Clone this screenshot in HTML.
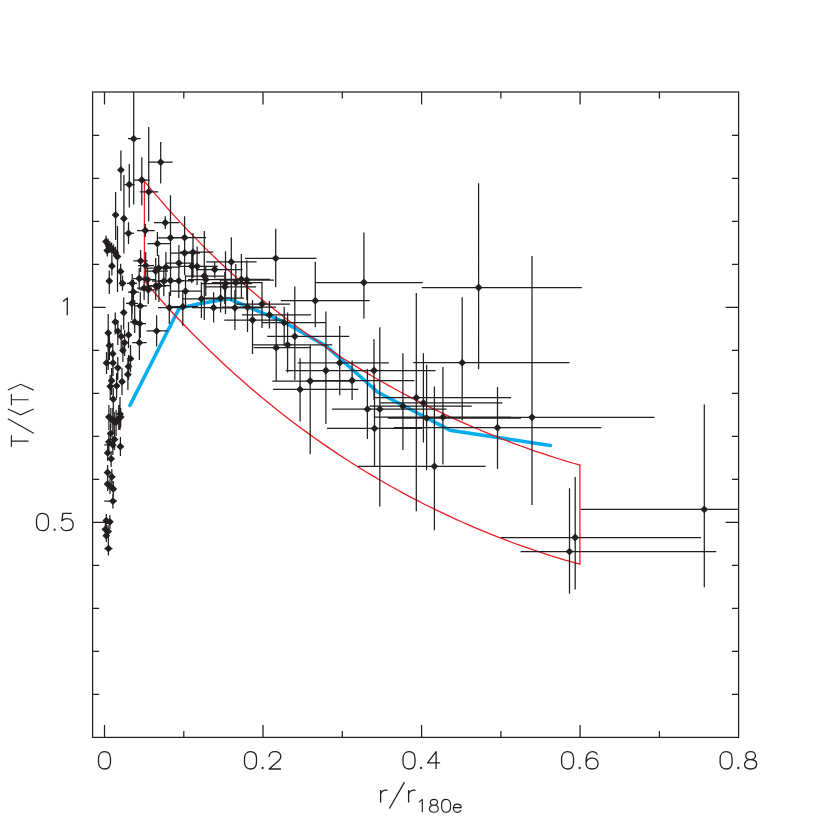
<!DOCTYPE html><html><head><meta charset="utf-8"><title>T profile</title><style>html,body{margin:0;padding:0;background:#fff;}body{width:830px;height:830px;overflow:hidden;position:relative;font-family:"Liberation Sans",sans-serif;}</style></head><body><svg width="830" height="830" viewBox="0 0 830 830" style="position:absolute;left:0;top:0"><rect x="0" y="0" width="830" height="830" fill="#fff"/><path d="M130.0,405.3 L179.2,308.3 L201.8,303.3 L228.5,298.7 L283.5,321.7 L326.3,346.1 L377.5,392.0 L449.8,430.2 L550.4,445.5" fill="none" stroke="#00aeef" stroke-width="3.6" stroke-linejoin="round" stroke-linecap="round"/><path d="M144.4,181.2 L151.8,190.1 L159.2,198.7 L166.5,207.2 L173.9,215.4 L181.3,223.4 L188.7,231.3 L196.1,238.9 L203.5,246.4 L210.8,253.6 L218.2,260.7 L225.6,267.7 L233.0,274.4 L240.4,281.0 L247.7,287.4 L255.1,293.7 L262.5,299.9 L269.9,305.9 L277.3,311.7 L284.6,317.4 L292.0,323.0 L299.4,328.5 L306.8,333.8 L314.2,339.0 L321.6,344.1 L328.9,349.1 L336.3,353.9 L343.7,358.7 L351.1,363.4 L358.5,367.9 L365.8,372.4 L373.2,376.7 L380.6,381.0 L388.0,385.1 L395.4,389.2 L402.7,393.2 L410.1,397.1 L417.5,400.9 L424.9,404.7 L432.3,408.3 L439.7,411.9 L447.0,415.4 L454.4,418.8 L461.8,422.1 L469.2,425.4 L476.6,428.5 L483.9,431.6 L491.3,434.7 L498.7,437.6 L506.1,440.5 L513.5,443.3 L520.8,446.0 L528.2,448.7 L535.6,451.3 L543.0,453.7 L550.4,456.2 L557.8,458.5 L565.1,460.8 L572.5,463.0 L579.9,465.1 L579.9,564.2 L572.5,562.2 L565.1,560.1 L557.8,557.8 L550.4,555.6 L543.0,553.2 L535.6,550.7 L528.2,548.2 L520.8,545.6 L513.5,543.0 L506.1,540.2 L498.7,537.4 L491.3,534.4 L483.9,531.4 L476.6,528.4 L469.2,525.2 L461.8,522.0 L454.4,518.6 L447.0,515.2 L439.7,511.7 L432.3,508.1 L424.9,504.5 L417.5,500.7 L410.1,496.8 L402.7,492.9 L395.4,488.8 L388.0,484.7 L380.6,480.5 L373.2,476.1 L365.8,471.7 L358.5,467.2 L351.1,462.5 L343.7,457.8 L336.3,452.9 L328.9,447.9 L321.6,442.9 L314.2,437.7 L306.8,432.4 L299.4,426.9 L292.0,421.4 L284.6,415.7 L277.3,409.9 L269.9,404.0 L262.5,398.0 L255.1,391.8 L247.7,385.5 L240.4,379.0 L233.0,372.4 L225.6,365.7 L218.2,358.8 L210.8,351.7 L203.5,344.5 L196.1,337.2 L188.7,329.7 L181.3,322.0 L173.9,314.2 L166.5,306.2 L159.2,298.0 L151.8,289.6 L144.4,281.1 Z" fill="none" stroke="#ed1c24" stroke-width="1.3" stroke-linejoin="miter"/><path d="M128.0,138.7H140.6M133.7,92.0V204.5M118.0,169.9H124.0M120.9,150.5V191.0M124.6,184.5H134.7M129.3,164.0V207.5M133.9,180.0H149.9M141.8,157.2V205.3M139.8,191.8H158.3M148.7,126.9V221.3M149.0,162.2H172.6M160.7,142.0V183.4M113.0,214.9H118.0M115.6,192.1V239.9M121.0,218.5H127.0M123.9,174.9V253.6M123.7,233.3H133.9M128.5,222.2V244.0M137.0,230.5H154.7M145.3,224.0V237.0M154.0,222.7H179.3M165.3,216.3V228.9M157.5,237.8H184.0M170.5,195.2V280.0M170.0,237.6H206.2M184.6,216.3V275.0M147.5,243.7H169.8M157.4,232.0V256.0M115.0,256.6H120.0M117.5,226.0V292.0M103.5,241.6H108.5M106.0,235.6V247.6M105.6,244.6H110.6M108.1,238.6V250.6M104.8,250.5H109.8M107.3,244.5V256.5M107.3,247.0H112.3M109.8,241.0V253.0M109.2,248.6H114.2M111.7,242.6V254.6M111.1,250.6H116.1M113.6,244.6V256.6M113.0,252.8H118.0M115.5,246.8V258.8M109.4,266.0H114.4M111.9,255.0V275.5M118.1,271.5H123.1M120.6,263.7V285.7M106.8,281.0H111.8M109.3,270.5V294.0M119.0,283.3H126.0M122.5,275.5V290.7M127.0,283.3H137.0M132.2,273.9V314.3M128.0,292.0H139.0M133.4,280.0V305.0M126.0,303.4H138.0M131.8,292.0V320.0M134.0,305.9H147.0M140.3,292.0V338.0M121.2,312.6H126.2M123.7,297.5V329.5M112.8,321.9H117.8M115.3,312.6V334.6M130.0,321.9H140.0M134.7,300.0V333.0M134.0,323.6H146.0M139.8,310.0V337.0M105.7,332.9H110.7M108.2,314.0V370.0M115.3,331.2H120.3M117.8,320.0V345.0M118.7,336.3H123.7M121.2,325.0V350.0M126.0,334.9H131.0M128.5,322.0V348.0M122.1,342.7H127.1M124.6,330.0V356.0M106.9,345.5H111.9M109.4,332.0V360.0M120.4,350.4H125.4M122.9,340.0V362.0M132.2,342.7H146.5M139.4,324.5V359.9M110.3,353.7H115.3M112.8,343.0V366.0M128.0,358.7H133.0M130.5,345.0V372.0M104.0,362.9H109.0M106.5,352.0V374.0M110.5,362.9H115.5M113.0,352.0V376.0M115.3,367.8H120.3M117.8,357.0V380.0M126.0,366.5H131.0M128.5,355.0V380.0M125.4,374.5H130.4M127.9,360.0V390.0M119.5,381.7H124.5M122.0,368.0V395.0M109.1,380.7H114.1M111.6,368.0V395.0M107.7,386.3H112.7M110.2,375.0V400.0M114.1,385.8H119.1M116.6,373.0V398.0M110.8,399.2H115.8M113.3,388.0V412.0M117.5,414.1H122.5M120.0,397.0V430.0M106.4,417.1H111.4M108.9,405.0V430.0M110.3,420.0H115.3M112.8,408.0V433.0M113.6,422.2H118.6M116.1,410.0V436.0M116.2,418.3H121.2M118.7,405.0V430.0M118.2,417.0H123.2M120.7,408.0V427.5M108.3,418.8H113.3M110.8,408.0V428.0M111.8,421.6H116.8M114.3,412.0V432.0M108.1,433.5H113.1M110.6,424.0V443.0M112.0,439.4H117.0M114.5,430.0V450.0M106.4,441.9H111.4M108.9,432.0V452.0M104.3,444.9H116.0M112.8,436.0V455.0M117.0,446.5H124.0M120.4,437.0V456.0M105.2,452.9H110.2M107.7,445.0V461.0M108.6,458.8H113.6M111.1,451.0V467.0M105.1,472.5H110.1M107.6,465.0V480.0M109.3,476.8H114.3M111.8,469.0V485.0M105.1,484.0H110.1M107.6,477.0V491.0M107.5,486.4H112.5M110.0,479.0V494.0M110.8,488.9H115.8M113.3,481.0V497.0M104.2,501.1H117.0M112.9,494.0V508.6M103.8,520.6H108.8M106.3,514.0V527.0M107.4,521.8H112.4M109.9,515.2V529.0M102.9,529.3H107.9M105.4,523.0V536.0M105.6,531.4H110.6M108.1,525.0V538.0M103.8,535.7H108.8M106.3,529.0V542.0M104.5,548.6H112.5M108.4,537.5V555.5M146.5,330.9H167.6M156.6,315.2V346.4M133.4,260.8H147.8M140.6,250.0V272.0M138.0,265.6H154.0M145.7,252.0V280.0M146.0,271.1H168.0M155.7,258.0V285.0M148.0,268.1H172.0M158.7,255.0V282.0M154.0,267.2H180.0M165.9,252.0V283.0M166.0,263.1H194.0M178.9,245.0V282.0M170.0,253.0H200.0M184.6,238.0V270.0M180.0,252.2H213.3M193.0,233.0V278.0M178.0,266.3H208.0M191.8,250.0V283.0M182.0,266.3H217.8M197.1,246.6V285.0M196.0,269.5H242.5M214.7,262.5V278.0M186.0,276.0H224.0M204.3,231.0V320.0M188.0,279.5H230.0M205.8,266.0V296.0M133.0,278.5H146.0M139.2,268.0V290.0M140.0,279.6H156.0M147.5,268.0V292.0M137.0,288.1H152.0M144.1,276.0V300.0M140.0,289.8H158.0M148.3,278.0V304.0M146.0,286.0H166.0M155.7,272.0V300.0M148.0,285.5H170.0M158.9,270.0V302.0M152.0,281.2H176.0M163.8,268.0V296.0M158.0,280.5H184.0M170.5,266.0V296.0M164.0,280.8H194.0M178.8,266.0V298.0M170.0,291.2H202.0M185.5,275.0V308.0M182.0,298.8H222.0M201.4,282.0V318.0M200.0,298.2H244.0M220.6,280.7V312.5M192.0,307.7H238.0M213.6,292.3V322.6M158.0,307.6H182.0M169.3,292.0V324.0M168.0,306.7H198.0M182.8,290.0V326.0M202.0,283.6H252.0M225.5,251.3V314.0M204.0,286.8H256.0M224.8,272.0V304.0M206.0,261.9H256.6M231.3,237.3V301.0M214.0,279.3H270.0M241.4,254.0V298.0M220.0,280.0H274.0M246.8,260.5V300.0M210.0,307.8H262.0M234.9,290.0V330.0M222.0,307.0H276.0M247.5,284.0V332.0M236.0,304.0H290.0M262.0,282.0V328.0M241.9,314.8H311.1M269.4,301.0V328.4M224.2,320.0H285.0M252.5,300.0V354.0M262.0,322.7H326.0M284.2,306.7V345.0M267.2,336.3H349.2M294.8,286.4V380.0M252.9,344.8H332.2M287.6,312.6V372.5M253.7,347.7H311.1M276.2,316.0V381.0M245.0,258.3H316.6M275.7,228.7V287.2M281.0,300.7H369.6M315.3,261.7V327.2M315.7,282.5H422.7M363.9,232.4V318.6M297.6,362.8H388.8M339.7,326.0V395.3M285.8,370.5H395.0M325.9,311.5V424.0M272.3,381.0H352.0M310.2,345.5V454.3M310.0,380.5H414.4M352.1,360.5V400.0M273.1,389.4H358.3M300.1,358.2V421.4M325.0,370.5H435.6M374.0,338.9V400.0M327.0,428.4H422.0M374.5,385.0V466.4M331.9,409.2H446.6M367.4,369.0V439.1M348.3,409.2H440.0M379.8,327.3V506.5M369.5,406.2H471.7M402.9,353.2V450.0M374.3,397.7H511.0M416.3,292.9V511.3M380.0,402.9H502.4M423.4,353.2V442.4M387.8,418.1H521.0M426.6,364.7V470.3M375.0,417.1H511.0M442.9,367.0V464.4M413.3,362.7H569.5M462.2,297.3V420.5M357.9,466.3H485.6M434.4,386.4V530.2M421.7,287.5H581.8M478.6,183.3V369.3M393.7,427.7H601.3M497.5,387.0V469.0M456.0,417.3H654.6M532.0,256.0V505.0M501.0,537.5H701.0M575.2,476.9V589.4M520.5,551.6H716.2M569.5,488.2V593.8M580.6,509.4H739.0M704.3,404.6V587.3M212.0,282.6H262.0M235.8,264.0V300.0" fill="none" stroke="#231f20" stroke-width="1.25"/><path d="M129.8,138.7L133.7,134.8L137.6,138.7L133.7,142.6ZM117.0,169.9L120.9,166.0L124.8,169.9L120.9,173.8ZM125.4,184.5L129.3,180.6L133.2,184.5L129.3,188.4ZM137.9,180.0L141.8,176.1L145.7,180.0L141.8,183.9ZM144.8,191.8L148.7,187.9L152.6,191.8L148.7,195.7ZM156.8,162.2L160.7,158.3L164.6,162.2L160.7,166.1ZM111.7,214.9L115.6,211.0L119.5,214.9L115.6,218.8ZM120.0,218.5L123.9,214.6L127.8,218.5L123.9,222.4ZM124.6,233.3L128.5,229.4L132.4,233.3L128.5,237.2ZM141.4,230.5L145.3,226.6L149.2,230.5L145.3,234.4ZM161.4,222.7L165.3,218.8L169.2,222.7L165.3,226.6ZM166.6,237.8L170.5,233.9L174.4,237.8L170.5,241.7ZM180.7,237.6L184.6,233.7L188.5,237.6L184.6,241.5ZM153.5,243.7L157.4,239.8L161.3,243.7L157.4,247.6ZM113.6,256.6L117.5,252.7L121.4,256.6L117.5,260.5ZM102.1,241.6L106.0,237.7L109.9,241.6L106.0,245.5ZM104.2,244.6L108.1,240.7L112.0,244.6L108.1,248.5ZM103.4,250.5L107.3,246.6L111.2,250.5L107.3,254.4ZM105.9,247.0L109.8,243.1L113.7,247.0L109.8,250.9ZM107.8,248.6L111.7,244.7L115.6,248.6L111.7,252.5ZM109.7,250.6L113.6,246.7L117.5,250.6L113.6,254.5ZM111.6,252.8L115.5,248.9L119.4,252.8L115.5,256.7ZM108.0,266.0L111.9,262.1L115.8,266.0L111.9,269.9ZM116.7,271.5L120.6,267.6L124.5,271.5L120.6,275.4ZM105.4,281.0L109.3,277.1L113.2,281.0L109.3,284.9ZM118.6,283.3L122.5,279.4L126.4,283.3L122.5,287.2ZM128.3,283.3L132.2,279.4L136.1,283.3L132.2,287.2ZM129.5,292.0L133.4,288.1L137.3,292.0L133.4,295.9ZM127.9,303.4L131.8,299.5L135.7,303.4L131.8,307.3ZM136.4,305.9L140.3,302.0L144.2,305.9L140.3,309.8ZM119.8,312.6L123.7,308.7L127.6,312.6L123.7,316.5ZM111.4,321.9L115.3,318.0L119.2,321.9L115.3,325.8ZM130.8,321.9L134.7,318.0L138.6,321.9L134.7,325.8ZM135.9,323.6L139.8,319.7L143.7,323.6L139.8,327.5ZM104.3,332.9L108.2,329.0L112.1,332.9L108.2,336.8ZM113.9,331.2L117.8,327.3L121.7,331.2L117.8,335.1ZM117.3,336.3L121.2,332.4L125.1,336.3L121.2,340.2ZM124.6,334.9L128.5,331.0L132.4,334.9L128.5,338.8ZM120.7,342.7L124.6,338.8L128.5,342.7L124.6,346.6ZM105.5,345.5L109.4,341.6L113.3,345.5L109.4,349.4ZM119.0,350.4L122.9,346.5L126.8,350.4L122.9,354.3ZM135.5,342.7L139.4,338.8L143.3,342.7L139.4,346.6ZM108.9,353.7L112.8,349.8L116.7,353.7L112.8,357.6ZM126.6,358.7L130.5,354.8L134.4,358.7L130.5,362.6ZM102.6,362.9L106.5,359.0L110.4,362.9L106.5,366.8ZM109.1,362.9L113.0,359.0L116.9,362.9L113.0,366.8ZM113.9,367.8L117.8,363.9L121.7,367.8L117.8,371.7ZM124.6,366.5L128.5,362.6L132.4,366.5L128.5,370.4ZM124.0,374.5L127.9,370.6L131.8,374.5L127.9,378.4ZM118.1,381.7L122.0,377.8L125.9,381.7L122.0,385.6ZM107.7,380.7L111.6,376.8L115.5,380.7L111.6,384.6ZM106.3,386.3L110.2,382.4L114.1,386.3L110.2,390.2ZM112.7,385.8L116.6,381.9L120.5,385.8L116.6,389.7ZM109.4,399.2L113.3,395.3L117.2,399.2L113.3,403.1ZM116.1,414.1L120.0,410.2L123.9,414.1L120.0,418.0ZM105.0,417.1L108.9,413.2L112.8,417.1L108.9,421.0ZM108.9,420.0L112.8,416.1L116.7,420.0L112.8,423.9ZM112.2,422.2L116.1,418.3L120.0,422.2L116.1,426.1ZM114.8,418.3L118.7,414.4L122.6,418.3L118.7,422.2ZM116.8,417.0L120.7,413.1L124.6,417.0L120.7,420.9ZM106.9,418.8L110.8,414.9L114.7,418.8L110.8,422.7ZM110.4,421.6L114.3,417.7L118.2,421.6L114.3,425.5ZM106.7,433.5L110.6,429.6L114.5,433.5L110.6,437.4ZM110.6,439.4L114.5,435.5L118.4,439.4L114.5,443.3ZM105.0,441.9L108.9,438.0L112.8,441.9L108.9,445.8ZM108.9,444.9L112.8,441.0L116.7,444.9L112.8,448.8ZM116.5,446.5L120.4,442.6L124.3,446.5L120.4,450.4ZM103.8,452.9L107.7,449.0L111.6,452.9L107.7,456.8ZM107.2,458.8L111.1,454.9L115.0,458.8L111.1,462.7ZM103.7,472.5L107.6,468.6L111.5,472.5L107.6,476.4ZM107.9,476.8L111.8,472.9L115.7,476.8L111.8,480.7ZM103.7,484.0L107.6,480.1L111.5,484.0L107.6,487.9ZM106.1,486.4L110.0,482.5L113.9,486.4L110.0,490.3ZM109.4,488.9L113.3,485.0L117.2,488.9L113.3,492.8ZM109.0,501.1L112.9,497.2L116.8,501.1L112.9,505.0ZM102.4,520.6L106.3,516.7L110.2,520.6L106.3,524.5ZM106.0,521.8L109.9,517.9L113.8,521.8L109.9,525.7ZM101.5,529.3L105.4,525.4L109.3,529.3L105.4,533.2ZM104.2,531.4L108.1,527.5L112.0,531.4L108.1,535.3ZM102.4,535.7L106.3,531.8L110.2,535.7L106.3,539.6ZM104.5,548.6L108.4,544.7L112.3,548.6L108.4,552.5ZM152.7,330.9L156.6,327.0L160.5,330.9L156.6,334.8ZM136.7,260.8L140.6,256.9L144.5,260.8L140.6,264.7ZM141.8,265.6L145.7,261.7L149.6,265.6L145.7,269.5ZM151.8,271.1L155.7,267.2L159.6,271.1L155.7,275.0ZM154.8,268.1L158.7,264.2L162.6,268.1L158.7,272.0ZM162.0,267.2L165.9,263.3L169.8,267.2L165.9,271.1ZM175.0,263.1L178.9,259.2L182.8,263.1L178.9,267.0ZM180.7,253.0L184.6,249.1L188.5,253.0L184.6,256.9ZM189.1,252.2L193.0,248.3L196.9,252.2L193.0,256.1ZM187.9,266.3L191.8,262.4L195.7,266.3L191.8,270.2ZM193.2,266.3L197.1,262.4L201.0,266.3L197.1,270.2ZM210.8,269.5L214.7,265.6L218.6,269.5L214.7,273.4ZM200.4,276.0L204.3,272.1L208.2,276.0L204.3,279.9ZM201.9,279.5L205.8,275.6L209.7,279.5L205.8,283.4ZM135.3,278.5L139.2,274.6L143.1,278.5L139.2,282.4ZM143.6,279.6L147.5,275.7L151.4,279.6L147.5,283.5ZM140.2,288.1L144.1,284.2L148.0,288.1L144.1,292.0ZM144.4,289.8L148.3,285.9L152.2,289.8L148.3,293.7ZM151.8,286.0L155.7,282.1L159.6,286.0L155.7,289.9ZM155.0,285.5L158.9,281.6L162.8,285.5L158.9,289.4ZM159.9,281.2L163.8,277.3L167.7,281.2L163.8,285.1ZM166.6,280.5L170.5,276.6L174.4,280.5L170.5,284.4ZM174.9,280.8L178.8,276.9L182.7,280.8L178.8,284.7ZM181.6,291.2L185.5,287.3L189.4,291.2L185.5,295.1ZM197.5,298.8L201.4,294.9L205.3,298.8L201.4,302.7ZM216.7,298.2L220.6,294.3L224.5,298.2L220.6,302.1ZM209.7,307.7L213.6,303.8L217.5,307.7L213.6,311.6ZM165.4,307.6L169.3,303.7L173.2,307.6L169.3,311.5ZM178.9,306.7L182.8,302.8L186.7,306.7L182.8,310.6ZM221.6,283.6L225.5,279.7L229.4,283.6L225.5,287.5ZM220.9,286.8L224.8,282.9L228.7,286.8L224.8,290.7ZM227.4,261.9L231.3,258.0L235.2,261.9L231.3,265.8ZM237.5,279.3L241.4,275.4L245.3,279.3L241.4,283.2ZM242.9,280.0L246.8,276.1L250.7,280.0L246.8,283.9ZM231.0,307.8L234.9,303.9L238.8,307.8L234.9,311.7ZM243.6,307.0L247.5,303.1L251.4,307.0L247.5,310.9ZM258.1,304.0L262.0,300.1L265.9,304.0L262.0,307.9ZM265.5,314.8L269.4,310.9L273.3,314.8L269.4,318.7ZM248.6,320.0L252.5,316.1L256.4,320.0L252.5,323.9ZM280.3,322.7L284.2,318.8L288.1,322.7L284.2,326.6ZM290.9,336.3L294.8,332.4L298.7,336.3L294.8,340.2ZM283.7,344.8L287.6,340.9L291.5,344.8L287.6,348.7ZM272.3,347.7L276.2,343.8L280.1,347.7L276.2,351.6ZM271.8,258.3L275.7,254.4L279.6,258.3L275.7,262.2ZM311.4,300.7L315.3,296.8L319.2,300.7L315.3,304.6ZM360.0,282.5L363.9,278.6L367.8,282.5L363.9,286.4ZM335.8,362.8L339.7,358.9L343.6,362.8L339.7,366.7ZM322.0,370.5L325.9,366.6L329.8,370.5L325.9,374.4ZM306.3,381.0L310.2,377.1L314.1,381.0L310.2,384.9ZM348.2,380.5L352.1,376.6L356.0,380.5L352.1,384.4ZM296.2,389.4L300.1,385.5L304.0,389.4L300.1,393.3ZM370.1,370.5L374.0,366.6L377.9,370.5L374.0,374.4ZM370.6,428.4L374.5,424.5L378.4,428.4L374.5,432.3ZM363.5,409.2L367.4,405.3L371.3,409.2L367.4,413.1ZM375.9,409.2L379.8,405.3L383.7,409.2L379.8,413.1ZM399.0,406.2L402.9,402.3L406.8,406.2L402.9,410.1ZM412.4,397.7L416.3,393.8L420.2,397.7L416.3,401.6ZM419.5,402.9L423.4,399.0L427.3,402.9L423.4,406.8ZM422.7,418.1L426.6,414.2L430.5,418.1L426.6,422.0ZM439.0,417.1L442.9,413.2L446.8,417.1L442.9,421.0ZM458.3,362.7L462.2,358.8L466.1,362.7L462.2,366.6ZM430.5,466.3L434.4,462.4L438.3,466.3L434.4,470.2ZM474.7,287.5L478.6,283.6L482.5,287.5L478.6,291.4ZM493.6,427.7L497.5,423.8L501.4,427.7L497.5,431.6ZM528.1,417.3L532.0,413.4L535.9,417.3L532.0,421.2ZM571.3,537.5L575.2,533.6L579.1,537.5L575.2,541.4ZM565.6,551.6L569.5,547.7L573.4,551.6L569.5,555.5ZM700.4,509.4L704.3,505.5L708.2,509.4L704.3,513.3ZM231.9,282.6L235.8,278.7L239.7,282.6L235.8,286.5Z" fill="#231f20" stroke="none"/><rect x="92.6" y="92.0" width="646.0" height="645.4" fill="none" stroke="#231f20" stroke-width="1.25"/><path d="M104.5,737.4V724.9M104.5,92.0V104.5M183.8,737.4V730.9M183.8,92.0V98.5M263.0,737.4V724.9M263.0,92.0V104.5M342.3,737.4V730.9M342.3,92.0V98.5M421.6,737.4V724.9M421.6,92.0V104.5M500.9,737.4V730.9M500.9,92.0V98.5M580.1,737.4V724.9M580.1,92.0V104.5M659.4,737.4V730.9M659.4,92.0V98.5M92.6,694.4H99.19999999999999M738.6,694.4H732.0M92.6,651.4H99.19999999999999M738.6,651.4H732.0M92.6,608.4H99.19999999999999M738.6,608.4H732.0M92.6,565.4H99.19999999999999M738.6,565.4H732.0M92.6,522.4H105.6M738.6,522.4H725.6M92.6,479.4H99.19999999999999M738.6,479.4H732.0M92.6,436.4H99.19999999999999M738.6,436.4H732.0M92.6,393.4H99.19999999999999M738.6,393.4H732.0M92.6,350.4H99.19999999999999M738.6,350.4H732.0M92.6,307.4H105.6M738.6,307.4H725.6M92.6,264.4H99.19999999999999M738.6,264.4H732.0M92.6,221.4H99.19999999999999M738.6,221.4H732.0M92.6,178.4H99.19999999999999M738.6,178.4H732.0M92.6,135.4H99.19999999999999M738.6,135.4H732.0" fill="none" stroke="#231f20" stroke-width="1.25"/><path d="M11.4,435.3V446.7M11.4,441.1H28.6M7.8,418.7L33.7,433.3M7.8,409L20.7,414.8L33.7,409M11.4,394V405.5M11.4,399.7H28.6M7.8,390.1L20.7,384.3L33.7,390.1" fill="none" stroke="#231f20" stroke-width="1.15"/><path transform="translate(98.50,751.70) scale(1.0)" d="M0,7C0,2.6 2.2,0 6,0C9.8,0 12,2.6 12,7V10.3C12,14.7 9.8,17.3 6,17.3C2.2,17.3 0,14.7 0,10.3Z" fill="none" stroke="#231f20" stroke-width="1.300" stroke-linejoin="round" stroke-linecap="butt"/><path transform="translate(244.49,751.70) scale(1.0)" d="M0,7C0,2.6 2.2,0 6,0C9.8,0 12,2.6 12,7V10.3C12,14.7 9.8,17.3 6,17.3C2.2,17.3 0,14.7 0,10.3Z" fill="none" stroke="#231f20" stroke-width="1.300" stroke-linejoin="round" stroke-linecap="butt"/><circle cx="262.59" cy="768.00" r="1.15" fill="#231f20"/><path transform="translate(268.99,751.70) scale(1.0)" d="M0.2,5.3V4.9C0.2,1.9 2.4,0 6,0C9.6,0 11.8,1.9 11.8,4.9C11.8,6.5 11.2,7.5 9.9,8.7L0.2,17.3H12" fill="none" stroke="#231f20" stroke-width="1.300" stroke-linejoin="round" stroke-linecap="butt"/><path transform="translate(403.03,751.70) scale(1.0)" d="M0,7C0,2.6 2.2,0 6,0C9.8,0 12,2.6 12,7V10.3C12,14.7 9.8,17.3 6,17.3C2.2,17.3 0,14.7 0,10.3Z" fill="none" stroke="#231f20" stroke-width="1.300" stroke-linejoin="round" stroke-linecap="butt"/><circle cx="421.13" cy="768.00" r="1.15" fill="#231f20"/><path transform="translate(427.53,751.70) scale(1.0)" d="M8.6,17.3V0L0,11.2H12.6" fill="none" stroke="#231f20" stroke-width="1.300" stroke-linejoin="round" stroke-linecap="butt"/><path transform="translate(561.57,751.70) scale(1.0)" d="M0,7C0,2.6 2.2,0 6,0C9.8,0 12,2.6 12,7V10.3C12,14.7 9.8,17.3 6,17.3C2.2,17.3 0,14.7 0,10.3Z" fill="none" stroke="#231f20" stroke-width="1.300" stroke-linejoin="round" stroke-linecap="butt"/><circle cx="579.67" cy="768.00" r="1.15" fill="#231f20"/><path transform="translate(586.07,751.70) scale(1.0)" d="M11.2,3.2C10.6,1.2 8.8,0 6.2,0C2.2,0 0,3.5 0,9V11.8C0,15.2 2.4,17.3 6,17.3C9.6,17.3 12,15.1 12,11.8C12,8.6 9.6,6.5 6,6.5C3,6.5 0.7,8.2 0,11" fill="none" stroke="#231f20" stroke-width="1.300" stroke-linejoin="round" stroke-linecap="butt"/><path transform="translate(720.11,751.70) scale(1.0)" d="M0,7C0,2.6 2.2,0 6,0C9.8,0 12,2.6 12,7V10.3C12,14.7 9.8,17.3 6,17.3C2.2,17.3 0,14.7 0,10.3Z" fill="none" stroke="#231f20" stroke-width="1.300" stroke-linejoin="round" stroke-linecap="butt"/><circle cx="738.21" cy="768.00" r="1.15" fill="#231f20"/><path transform="translate(744.61,751.70) scale(1.0)" d="M6,7.9C3,7.9 1.2,6.3 1.2,3.95C1.2,1.6 3,0 6,0C9,0 10.8,1.6 10.8,3.95C10.8,6.3 9,7.9 6,7.9C2.4,7.9 0,9.8 0,12.6C0,15.4 2.4,17.3 6,17.3C9.6,17.3 12,15.4 12,12.6C12,9.8 9.6,7.9 6,7.9Z" fill="none" stroke="#231f20" stroke-width="1.300" stroke-linejoin="round" stroke-linecap="butt"/><path transform="translate(63.00,297.90) scale(1.0)" d="M0,3.6L4.3,0V17.3" fill="none" stroke="#231f20" stroke-width="1.300" stroke-linejoin="round" stroke-linecap="butt"/><path transform="translate(36.50,513.40) scale(1.0)" d="M0,7C0,2.6 2.2,0 6,0C9.8,0 12,2.6 12,7V10.3C12,14.7 9.8,17.3 6,17.3C2.2,17.3 0,14.7 0,10.3Z" fill="none" stroke="#231f20" stroke-width="1.300" stroke-linejoin="round" stroke-linecap="butt"/><circle cx="54.60" cy="529.70" r="1.15" fill="#231f20"/><path transform="translate(61.00,513.40) scale(1.0)" d="M10.7,0H1.8L0.9,7.4C2.3,5.9 4,5.2 6,5.2C9.8,5.2 12.2,7.6 12.2,11.2C12.2,15 9.8,17.3 6,17.3C3,17.3 0.8,16 0,13.5" fill="none" stroke="#231f20" stroke-width="1.300" stroke-linejoin="round" stroke-linecap="butt"/><path d="M380.6,789.9V802.6M380.6,793.8C381.8,791.3 384.20000000000005,789.8 387.5,790.3" fill="none" stroke="#231f20" stroke-width="1.3"/><path d="M389.4,808.5L404.5,782.1" stroke="#231f20" stroke-width="1.3" fill="none"/><path d="M408.6,789.9V802.6M408.6,793.8C409.8,791.3 412.20000000000005,789.8 415.5,790.3" fill="none" stroke="#231f20" stroke-width="1.3"/><path transform="translate(419.10,799.40) scale(0.745)" d="M0,3.6L4.3,0V17.3" fill="none" stroke="#231f20" stroke-width="1.544" stroke-linejoin="round" stroke-linecap="butt"/><path transform="translate(429.40,799.40) scale(0.745)" d="M6,7.9C3,7.9 1.2,6.3 1.2,3.95C1.2,1.6 3,0 6,0C9,0 10.8,1.6 10.8,3.95C10.8,6.3 9,7.9 6,7.9C2.4,7.9 0,9.8 0,12.6C0,15.4 2.4,17.3 6,17.3C9.6,17.3 12,15.4 12,12.6C12,9.8 9.6,7.9 6,7.9Z" fill="none" stroke="#231f20" stroke-width="1.544" stroke-linejoin="round" stroke-linecap="butt"/><path transform="translate(441.60,799.40) scale(0.745)" d="M0,7C0,2.6 2.2,0 6,0C9.8,0 12,2.6 12,7V10.3C12,14.7 9.8,17.3 6,17.3C2.2,17.3 0,14.7 0,10.3Z" fill="none" stroke="#231f20" stroke-width="1.544" stroke-linejoin="round" stroke-linecap="butt"/><path transform="translate(457.3,808.2)" d="M-3.9,-0.6H3.9C3.9,-3 2.4,-4.1 0,-4.1C-2.5,-4.1 -3.9,-2.4 -3.9,0C-3.9,2.5 -2.5,4.1 0,4.1C1.8,4.1 3.1,3.4 3.8,2" fill="none" stroke="#231f20" stroke-width="1.15"/></svg></body></html>
